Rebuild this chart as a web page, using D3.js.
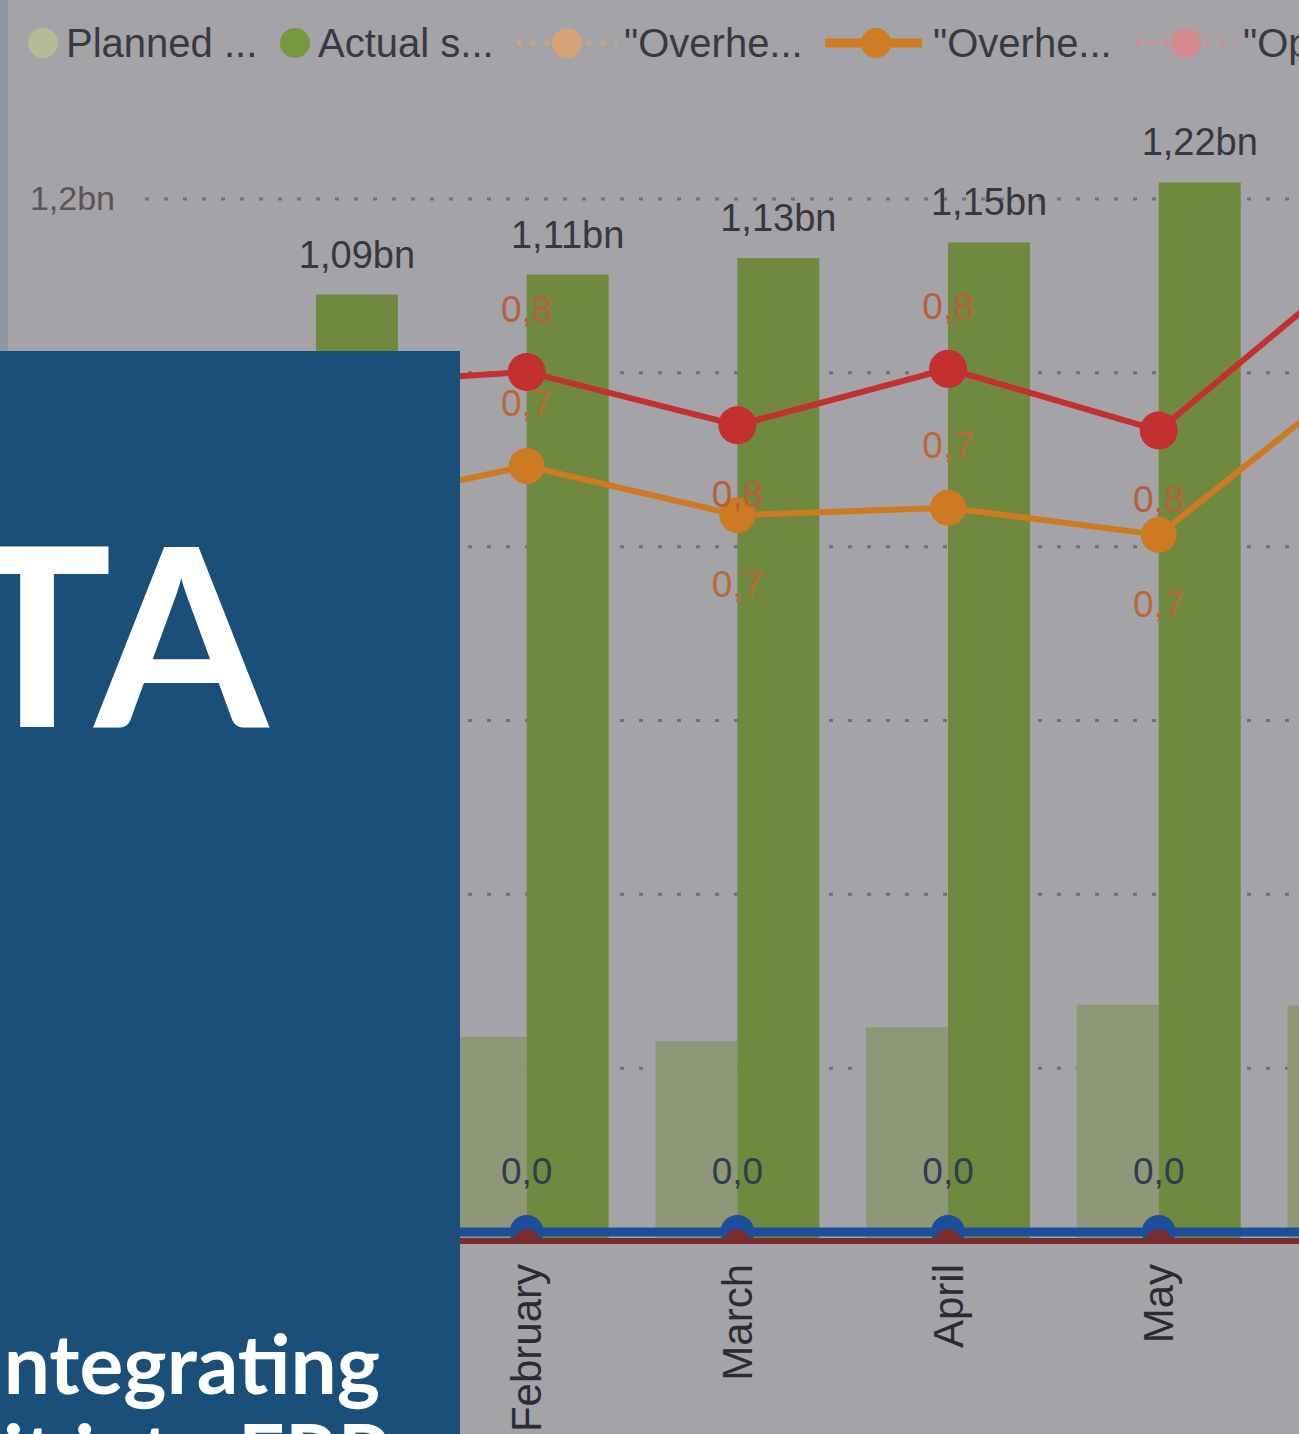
<!DOCTYPE html>
<html>
<head>
<meta charset="utf-8">
<script src="https://cdn.jsdelivr.net/npm/d3@7"></script>
<style>
	body { margin: 0; background: #a4a3a8; }
	svg { display: block; }
</style>
</head>
<body>
<div id="chart"></div>
<script>
//values
let months = ["January", "February", "March", "April", "May", "June"];
let planned = [0.240e9, 0.236e9, 0.231e9, 0.247e9, 0.273e9, 0.272e9];
let actual = [1.090e9, 1.113e9, 1.132e9, 1.150e9, 1.219e9, 1.200e9];
let overheadRatio = [0.69, 0.733, 0.686, 0.693, 0.667, 0.828];
let operatingRatio = [0.81, 0.823, 0.772, 0.826, 0.767, 0.935];
let zeroA = [0, 0, 0, 0, 0, 0];
let zeroB = [0, 0, 0, 0, 0, 0];
let legendNames = ["Planned ...", "Actual s...", "\"Overhe...", "\"Overhe...", "\"Operati..."];

function graph(){

	let width = 1299;
	let height = 1434;

	let svg = d3.select("#chart")
		.append("svg")
		.attr("width", width)
		.attr("height", height);

	svg.append("rect")
		.attr("width", width)
		.attr("height", height)
		.attr("fill", "#a4a3a8");

	//left border strip
	svg.append("rect")
		.attr("x", 0).attr("y", 0)
		.attr("width", 8).attr("height", 360)
		.attr("fill", "#8c99a3");

	let comma = (s) => s.replace(".", ",");

	//scales
	const xScale = d3.scaleBand()
		.domain(months)
		.range([210.6, 1474.8])
		.paddingInner(0.2216)
		.paddingOuter(0.1108);

	const yScale = d3.scaleLinear()
		.domain([0, 1.2e9])
		.range([1242, 199]);

	const y2Scale = d3.scaleLinear()
		.domain([0, 1])
		.range([1232, 187]);

	let bw = xScale.bandwidth() / 2;
	let cx = (m) => xScale(m) + bw;

	svg.append("defs").append("clipPath")
		.attr("id", "plot")
		.append("rect")
		.attr("x", 0).attr("y", 90)
		.attr("width", width).attr("height", 1244 - 90);

	//grid
	svg.append("g")
		.selectAll("line")
		.data(yScale.ticks(6).filter(d => d > 0))
		.join("line")
		.attr("x1", 145).attr("x2", width)
		.attr("y1", d => yScale(d)).attr("y2", d => yScale(d))
		.attr("stroke", "#727177")
		.attr("stroke-width", 3)
		.attr("stroke-dasharray", "4,15");

	//only the top tick label is left uncovered by the box
	const yAxis = d3.axisLeft(yScale)
		.tickValues([1.2e9])
		.tickSize(0)
		.tickPadding(10)
		.tickFormat(d => comma(d3.format(".1f")(d / 1e9)) + "bn");

	let ax = svg.append("g")
		.attr("transform", "translate(125,0)")
		.call(yAxis);
	ax.select(".domain").remove();
	ax.selectAll("text")
		.attr("font-family", "Liberation Sans, Arial, sans-serif")
		.attr("font-size", 34)
		.attr("fill", "#5e5458");

	let plot = svg.append("g").attr("clip-path", "url(#plot)");

	//bars
	plot.selectAll(".planned")
		.data(months)
		.join("rect")
		.attr("class", "planned")
		.attr("x", d => xScale(d))
		.attr("y", (d, i) => yScale(planned[i]))
		.attr("width", bw)
		.attr("height", (d, i) => yScale(0) - yScale(planned[i]))
		.attr("fill", "#8e9878");

	plot.selectAll(".actual")
		.data(months)
		.join("rect")
		.attr("class", "actual")
		.attr("x", d => cx(d))
		.attr("y", (d, i) => yScale(actual[i]))
		.attr("width", bw)
		.attr("height", (d, i) => yScale(0) - yScale(actual[i]))
		.attr("fill", "#6f8a3f");

	//lines
	function drawLine(values, scale, color, lw, r){
		let pts = months.map((m, i) => [cx(m), scale(values[i])]);
		plot.append("path")
			.attr("d", d3.line()(pts))
			.attr("fill", "none")
			.attr("stroke", color)
			.attr("stroke-width", lw);
		plot.append("g")
			.selectAll("circle")
			.data(pts)
			.join("circle")
			.attr("cx", d => d[0])
			.attr("cy", d => d[1])
			.attr("r", r)
			.attr("fill", color);
	}

	drawLine(zeroA, y2Scale, "#1c4f9b", 9, 17);
	drawLine(zeroB, yScale, "#7a2c2e", 8, 13);
	drawLine(overheadRatio, y2Scale, "#cd7a22", 6, 18);
	drawLine(operatingRatio, y2Scale, "#c2302f", 6, 19);

	let font = "Liberation Sans, Arial, sans-serif";

	//value labels
	svg.append("g")
		.selectAll("text")
		.data(months)
		.join("text")
		.attr("x", d => cx(d) + bw / 2)
		.attr("y", (d, i) => yScale(actual[i]) - 27)
		.attr("text-anchor", "middle")
		.attr("font-family", font)
		.attr("font-size", 38)
		.attr("fill", "#38373e")
		.text((d, i) => comma((actual[i] / 1e9).toFixed(2)) + "bn");

	//labels alternate above / below the points
	function lineLabels(values, color){
		svg.append("g")
			.selectAll("text")
			.data(months)
			.join("text")
			.attr("x", d => cx(d))
			.attr("y", (d, i) => y2Scale(values[i]) + (i % 2 ? -50 : 82))
			.attr("text-anchor", "middle")
			.attr("font-family", font)
			.attr("font-size", 37)
			.attr("fill", color)
			.text((d, i) => comma(values[i].toFixed(1)));
	}
	lineLabels(operatingRatio, "#b8603a");
	lineLabels(overheadRatio, "#b86a34");

	svg.append("g")
		.selectAll("text")
		.data(months)
		.join("text")
		.attr("x", d => cx(d))
		.attr("y", (d, i) => y2Scale(zeroA[i]) - 48)
		.attr("text-anchor", "middle")
		.attr("font-family", font)
		.attr("font-size", 37)
		.attr("fill", "#2e3d52")
		.text((d, i) => comma(zeroA[i].toFixed(1)));

	//month labels
	svg.append("g")
		.selectAll("text")
		.data(months)
		.join("text")
		.attr("transform", d => `translate(${cx(d)},1264) rotate(-90)`)
		.attr("dy", "0.35em")
		.attr("text-anchor", "end")
		.attr("font-family", font)
		.attr("font-size", 42)
		.attr("fill", "#2c2b33")
		.text(d => d);

	//legend
	let legend = svg.append("g").attr("font-family", font).attr("font-size", 40).attr("fill", "#3a3940");
	let lg = [
		{x: 43, c: "#b3bc95", kind: "dot"},
		{x: 295, c: "#76983e", kind: "dot"},
		{x: 567, c: "#d4a477", kind: "dotted"},
		{x: 876, c: "#cf7c22", kind: "solid"},
		{x: 1186, c: "#d58a8f", kind: "dotted"}
	];
	lg.forEach((d, i) => {
		if (d.kind === "dotted") {
			legend.append("line")
				.attr("x1", d.x - 50).attr("x2", d.x + 50)
				.attr("y1", 43).attr("y2", 43)
				.attr("stroke", d.c).attr("stroke-width", 5)
				.attr("stroke-dasharray", "4,10");
		}
		if (d.kind === "solid") {
			legend.append("line")
				.attr("x1", d.x - 51).attr("x2", d.x + 46)
				.attr("y1", 43).attr("y2", 43)
				.attr("stroke", d.c).attr("stroke-width", 9);
		}
		legend.append("circle")
			.attr("cx", d.x).attr("cy", 43).attr("r", 15)
			.attr("fill", d.c);
		legend.append("text")
			.attr("x", d.x + (d.kind === "dot" ? 23 : 57))
			.attr("y", 57)
			.text(legendNames[i]);
	});

	//overlay box
	let box = svg.append("g");
	box.append("rect")
		.attr("x", 0).attr("y", 351)
		.attr("width", 460).attr("height", height - 351)
		.attr("fill", "#1a4f7a");
	box.append("text")
		.attr("x", 268).attr("y", 727)
		.attr("text-anchor", "end")
		.attr("font-family", "Lato, sans-serif")
		.attr("font-weight", 700)
		.attr("font-size", 250)
		.attr("fill", "#ffffff")
		.text("DATA");
	box.append("text")
		.attr("x", -20).attr("y", 1394)
		.attr("font-family", "Lato, sans-serif")
		.attr("font-weight", 700)
		.attr("font-size", 82)
		.attr("fill", "#ffffff")
		.text("Integrating");
	box.append("text")
		.attr("x", 3).attr("y", 1484)
		.attr("font-family", "Lato, sans-serif")
		.attr("font-weight", 700)
		.attr("font-size", 82)
		.attr("fill", "#ffffff")
		.text("it into ERP");

}

graph();
</script>
</body>
</html>
